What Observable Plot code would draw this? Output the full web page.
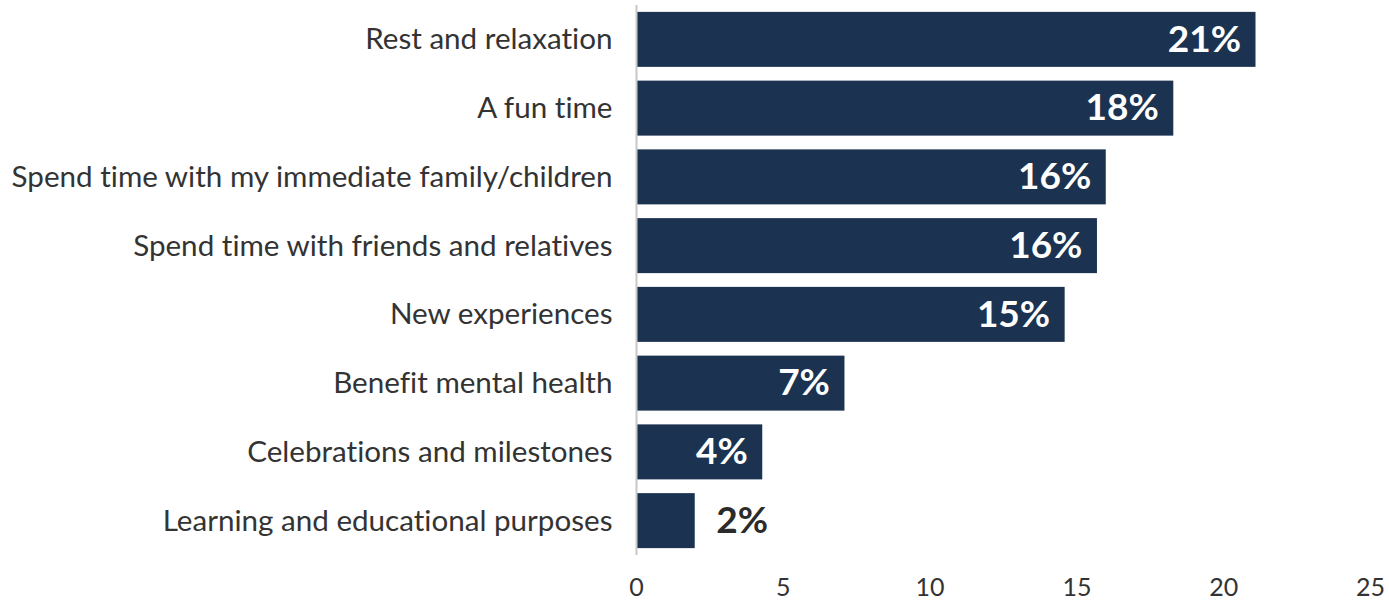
<!DOCTYPE html>
<html>
<head>
<meta charset="utf-8">
<script src="https://cdn.jsdelivr.net/npm/d3@7"></script>
<script src="https://cdn.jsdelivr.net/npm/@observablehq/plot@0.6"></script>
<style>
  html, body { margin: 0; padding: 0; background: #fff; }
  #chart svg { display: block; font-variant-ligatures: none; }
</style>
</head>
<body>
<div id="chart"></div>
<script>
const categories = [
  "Rest and relaxation",
  "A fun time",
  "Spend time with my immediate family/children",
  "Spend time with friends and relatives",
  "New experiences",
  "Benefit mental health",
  "Celebrations and milestones",
  "Learning and educational purposes"
];
const values = [21.1, 18.3, 16.0, 15.7, 14.6, 7.1, 4.3, 2.0];
const xTicks = [0, 5, 10, 15, 20, 25];

const data = categories.map((c, i) => ({category: c, value: values[i], label: Math.round(values[i]) + "%"}));
const inside = data.filter(d => d.value >= 3);
const outside = data.filter(d => d.value < 3);

const barColor = "#1b3350";

const chart = Plot.plot({
  width: 1389,
  height: 601,
  marginLeft: 636,
  marginRight: 19,
  marginTop: 5,
  marginBottom: 46,
  style: {fontFamily: "Lato, sans-serif", background: "#fff"},
  x: {domain: [0, 25], ticks: xTicks},
  y: {domain: categories, paddingInner: 0.2, paddingOuter: 0.1, round: false},
  marks: [
    Plot.barX(data, {x: "value", y: "category", fill: barColor}),
    Plot.ruleX([0], {stroke: "#c8c8c8", strokeWidth: 2}),
    Plot.text(inside, {x: "value", y: "category", text: "label", textAnchor: "end", dx: -15, fill: "#fff", fontSize: 37, fontWeight: "bold"}),
    Plot.text(outside, {x: "value", y: "category", text: "label", textAnchor: "start", dx: 21, fill: "#2b2b2b", fontSize: 37, fontWeight: "bold"}),
    Plot.axisY({tickSize: 0, tickPadding: 24, fontSize: 29.6, color: "#333", label: null}),
    Plot.axisX({ticks: xTicks, tickSize: 0, tickPadding: 23, fontSize: 25, color: "#333", label: null})
  ]
});
document.getElementById("chart").appendChild(chart);
</script>
</body>
</html>
